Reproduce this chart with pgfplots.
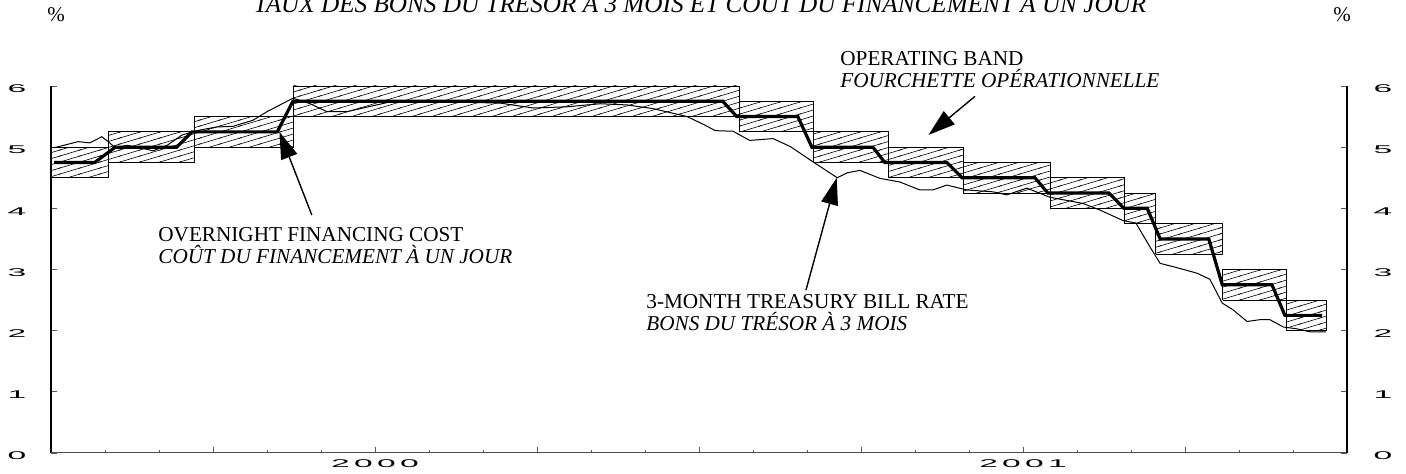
\documentclass[border=0pt]{standalone}
\usepackage{fontspec}
\setmainfont{Liberation Serif}
\newfontfamily\tickfont[FakeStretch=3,LetterSpace=38]{Liberation Sans}
\usepackage{pgfplots}
\usepackage{pgfplotstable}
\pgfplotsset{compat=1.18}
\usetikzlibrary{patterns,arrows.meta}

\pgfdeclarepatternformonly{shallow}{\pgfqpoint{-1pt}{-1pt}}{\pgfqpoint{11pt}{4pt}}{\pgfqpoint{10pt}{3pt}}{%
  \pgfsetlinewidth{0.3pt}%
  \pgfpathmoveto{\pgfqpoint{-0.5pt}{-0.15pt}}%
  \pgfpathlineto{\pgfqpoint{10.5pt}{3.15pt}}%
  \pgfusepath{stroke}}

\pgfplotstableread{
m r
0.06 4.99
0.50 5.09
0.72 5.07
0.94 5.17
1.06 5.09
1.19 4.99
1.41 5.03
1.65 4.99
1.89 4.94
2.15 5.03
2.43 5.20
2.76 5.28
3.07 5.33
3.37 5.34
3.74 5.44
4.00 5.58
4.24 5.69
4.48 5.80
4.80 5.71
5.11 5.58
5.48 5.58
6.28 5.74
7.39 5.74
8.32 5.72
8.93 5.64
9.56 5.66
10.17 5.71
10.67 5.69
11.15 5.63
11.78 5.50
12.11 5.36
12.30 5.27
12.63 5.26
12.94 5.11
13.37 5.14
13.69 5.01
14.06 4.79
14.56 4.50
14.74 4.58
14.98 4.62
15.35 4.49
15.72 4.43
16.09 4.30
16.33 4.30
16.59 4.38
16.96 4.30
17.44 4.27
17.70 4.22
18.07 4.33
18.50 4.18
19.11 4.08
19.43 3.97
19.85 3.80
20.09 3.76
20.35 3.37
20.54 3.10
20.85 3.03
21.22 2.94
21.46 2.84
21.69 2.45
21.89 2.34
22.15 2.15
22.39 2.18
22.57 2.18
22.82 2.06
23.07 2.03
23.32 1.98
23.61 1.98
}\tbill

\pgfplotstableread{
m r
0.06 4.75
0.81 4.75
1.19 5.00
2.33 5.00
2.61 5.25
4.19 5.25
4.48 5.75
12.44 5.75
12.70 5.50
13.83 5.50
14.09 5.00
15.22 5.00
15.44 4.75
16.59 4.75
16.87 4.50
18.22 4.50
18.46 4.25
19.59 4.25
19.87 4.00
20.30 4.00
20.54 3.50
21.44 3.50
21.69 2.75
22.61 2.75
22.85 2.25
23.54 2.25
}\overnight

\begin{document}
\begin{tikzpicture}
\pgfplotsset{
  commonaxis/.style={
    at={(0,0)}, anchor=south west,
    scale only axis, width=648pt, height=183.5pt,
    xmin=0, xmax=24, ymin=0, ymax=6,
    clip=false,
    axis line style={draw=none},
    ytick={0,1,2,3,4,5,6},
    yticklabels={0,1,2,3,4,5,6},
    tick align=inside,
    major tick length=3.2pt,
    minor tick length=1.6pt,
    tick style={gray!70!black, line width=0.4pt},
  }
}
\begin{axis}[commonaxis,
  xtick={6,18}, xticklabels={2000,2001},
  minor xtick={0,1,...,24},
  extra x ticks={0,3,9,12,15,21,24},
  extra x tick labels={},
  xtick pos=bottom, ytick pos=both, yticklabel pos=left,
  xticklabel style={font=\tickfont\fontsize{5.6}{6}\selectfont, anchor=center, yshift=-5.5pt},
  yticklabel style={font=\tickfont\fontsize{5.6}{6}\selectfont, anchor=center, xshift=-17pt, yshift=-1.5pt},
]
% operating band
\addplot[draw=black, line width=0.4pt, pattern=shallow] coordinates {(0,4.5) (1.07,4.5) (1.07,5.0) (0,5.0) (0,4.5)};
\addplot[draw=black, line width=0.4pt, pattern=shallow] coordinates {(1.07,4.75) (2.65,4.75) (2.65,5.25) (1.07,5.25) (1.07,4.75)};
\addplot[draw=black, line width=0.4pt, pattern=shallow] coordinates {(2.65,5.0) (4.48,5.0) (4.48,5.5) (2.65,5.5) (2.65,5.0)};
\addplot[draw=black, line width=0.4pt, pattern=shallow] coordinates {(4.48,5.5) (12.74,5.5) (12.74,6.0) (4.48,6.0) (4.48,5.5)};
\addplot[draw=black, line width=0.4pt, pattern=shallow] coordinates {(12.74,5.25) (14.11,5.25) (14.11,5.75) (12.74,5.75) (12.74,5.25)};
\addplot[draw=black, line width=0.4pt, pattern=shallow] coordinates {(14.11,4.75) (15.50,4.75) (15.50,5.25) (14.11,5.25) (14.11,4.75)};
\addplot[draw=black, line width=0.4pt, pattern=shallow] coordinates {(15.50,4.5) (16.89,4.5) (16.89,5.0) (15.50,5.0) (15.50,4.5)};
\addplot[draw=black, line width=0.4pt, pattern=shallow] coordinates {(16.89,4.25) (18.50,4.25) (18.50,4.75) (16.89,4.75) (16.89,4.25)};
\addplot[draw=black, line width=0.4pt, pattern=shallow] coordinates {(18.50,4.0) (19.87,4.0) (19.87,4.5) (18.50,4.5) (18.50,4.0)};
\addplot[draw=black, line width=0.4pt, pattern=shallow] coordinates {(19.87,3.75) (20.46,3.75) (20.46,4.25) (19.87,4.25) (19.87,3.75)};
\addplot[draw=black, line width=0.4pt, pattern=shallow] coordinates {(20.46,3.25) (21.70,3.25) (21.70,3.75) (20.46,3.75) (20.46,3.25)};
\addplot[draw=black, line width=0.4pt, pattern=shallow] coordinates {(21.70,2.5) (22.87,2.5) (22.87,3.0) (21.70,3.0) (21.70,2.5)};
\addplot[draw=black, line width=0.4pt, pattern=shallow] coordinates {(22.87,2.0) (23.61,2.0) (23.61,2.5) (22.87,2.5) (22.87,2.0)};
% series
\addplot[black, line width=0.5pt] table[x=m, y=r] {\tbill};
\addplot[black, line width=1.6pt] table[x=m, y=r] {\overnight};
% axis lines
\draw[line width=1.1pt] (rel axis cs:0,1) -- (rel axis cs:0,0);
\draw[line width=0.5pt, gray!60!black] (rel axis cs:0,0) -- (rel axis cs:1,0);
\draw[line width=0.9pt] (rel axis cs:1,0) -- (rel axis cs:1,1);
% arrows
\draw[line width=0.7pt, -{Triangle[length=13.5pt, width=8.5pt]}] (axis cs:17.11,5.83) -- (axis cs:16.25,5.20);
\draw[line width=0.7pt, -{Triangle[length=13.5pt, width=8.5pt]}] (axis cs:4.83,3.89) -- (axis cs:4.23,5.25);
\draw[line width=0.7pt, -{Triangle[length=13.5pt, width=8.5pt]}] (axis cs:13.98,2.66) -- (axis cs:14.55,4.50);
\end{axis}
\begin{axis}[commonaxis,
  hide x axis,
  ytick pos=right, yticklabel pos=right,
  major tick length=0pt,
  yticklabel style={font=\tickfont\fontsize{5.6}{6}\selectfont, anchor=center, xshift=18pt, yshift=-1.5pt},
]
\addplot[draw=none] coordinates {(0,0) (24,6)};
\end{axis}
% texts
\node[anchor=base, font=\fontsize{12.6}{14}\selectfont\itshape] at (324.5pt,220pt) {TAUX DES BONS DU TRÉSOR À 3 MOIS ET COÛT DU FINANCEMENT À UN JOUR};
\node[anchor=base, font=\fontsize{10.5}{12}\selectfont] at (2.5pt,215.5pt) {\%};
\node[anchor=base, font=\fontsize{10.5}{12}\selectfont] at (645.5pt,215.5pt) {\%};
\node[anchor=base west, inner sep=0pt, font=\fontsize{10.6}{12}\selectfont] at (394.5pt,193.5pt) {OPERATING BAND};
\node[anchor=base west, inner sep=0pt, font=\fontsize{10.6}{12}\selectfont\itshape] at (394.5pt,182.5pt) {FOURCHETTE OPÉRATIONNELLE};
\node[anchor=base west, inner sep=0pt, font=\fontsize{10.6}{12}\selectfont] at (53.5pt,105.5pt) {OVERNIGHT FINANCING COST};
\node[anchor=base west, inner sep=0pt, font=\fontsize{10.6}{12}\selectfont\itshape] at (53.5pt,94.5pt) {COÛT DU FINANCEMENT À UN JOUR};
\node[anchor=base west, inner sep=0pt, font=\fontsize{10.6}{12}\selectfont] at (297.5pt,72pt) {3-MONTH TREASURY BILL RATE};
\node[anchor=base west, inner sep=0pt, font=\fontsize{10.6}{12}\selectfont\itshape] at (297.5pt,61pt) {BONS DU TRÉSOR À 3 MOIS};
\pgfresetboundingbox
\useasboundingbox (-25.5pt,-10.5pt) rectangle (677.5pt,226.5pt);
\end{tikzpicture}
\end{document}
